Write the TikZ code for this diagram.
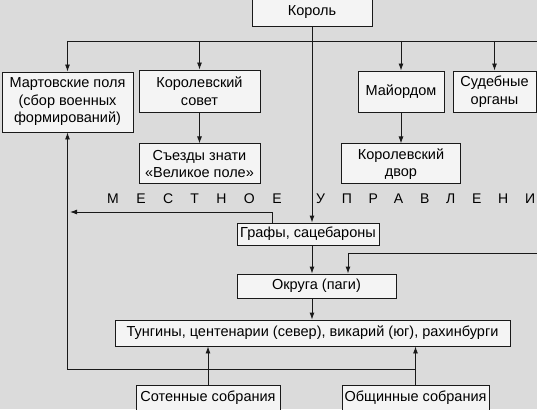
\documentclass[tikz,border=0pt]{standalone}
\usepackage{fontspec}
\setmainfont{Liberation Sans}
\usetikzlibrary{arrows.meta, positioning}
\definecolor{paper}{gray}{0.86}
\definecolor{boxfill}{gray}{0.955}

\begin{document}
\begin{tikzpicture}[
    x=1pt, y=-1pt,
    box/.style={rectangle, draw=black!90, fill=boxfill, line width=0.9pt, align=center, inner sep=1pt, font=\fontsize{14.5}{17.5}\selectfont},
    arrow/.style={-{Latex[length=7pt, width=5pt]}, line width=0.9pt, draw=black!90},
    line/.style={line width=0.9pt, draw=black!90},
    spaced/.style={inner sep=0pt, anchor=west, font=\fontsize{14}{16}\selectfont\addfontfeature{LetterSpace=#1}}
]
    \useasboundingbox (0,0) rectangle (537,409);
    \fill[paper] (0,0) rectangle (537,409);

    % Top level
    \node[box, minimum width=120pt, minimum height=28pt] (korol) at (312,12) {Король};

    % Central bodies
    \node[box, minimum width=131pt, minimum height=60pt] (mart) at (67.5,102) {Мартовские поля\\(сбор военных\\формирований)};
    \node[box, minimum width=121pt, minimum height=42pt] (sovet) at (199.5,91) {Королевский\\совет};
    \node[box, minimum width=121pt, minimum height=40pt, below=31pt of sovet] (sezdy) {Съезды знати\\«Великое поле»};
    \node[box, minimum width=86pt, minimum height=41pt] (major) at (401,91.5) {Майордом};
    \node[box, minimum width=83pt, minimum height=41pt] (sud) at (494.5,91.5) {Судебные\\органы};
    \node[box, minimum width=119pt, minimum height=40pt, below=31pt of major] (dvor) {Королевский\\двор};

    % Local government
    \node[spaced=125] (mest1) at (107,199) {МЕСТНОЕ};
    \node[spaced=120] (mest2) at (316,199) {УПРАВЛЕНИ};
    \node[box, minimum width=142pt, minimum height=22pt] (grafy) at (308,234) {Графы, сацебароны};
    \node[box, minimum width=159pt, minimum height=24pt] (okruga) at (316.5,286) {Округа (паги)};
    \node[box, minimum width=395pt, minimum height=26pt] (tung) at (312.5,333) {Тунгины, центенарии (север), викарий (юг), рахинбурги};

    % Assemblies
    \node[box, minimum width=144pt, minimum height=26pt] (sot) at (208,398) {Сотенные собрания};
    \node[box, minimum width=147pt, minimum height=26pt] (obsch) at (415.5,398) {Общинные собрания};

    \coordinate (busR) at (537,41);
    \coordinate (rightIn) at (537,253);
    \coordinate (mestL) at (70,212);
    \coordinate (loopB) at (67.5,369);

    % Arrows
    \draw[arrow] (korol) -- (korol |- grafy.north);
    \draw[line] (mart.north |- busR) -- (busR);
    \draw[arrow] (mart.north |- busR) -- (mart);
    \draw[arrow] (sovet.north |- busR) -- (sovet);
    \draw[arrow] (major.north |- busR) -- (major);
    \draw[arrow] (sud.north |- busR) -- (sud);
    \draw[arrow] (sovet) -- (sezdy);
    \draw[arrow] (major) -- (dvor);
    \draw[arrow] ([xshift=-36pt]grafy.north) |- (mestL);
    \draw[arrow] (korol |- grafy.south) -- (korol |- okruga.north);
    \draw[arrow] (rightIn) -| ([xshift=31.5pt]okruga.north);
    \draw[arrow] (korol |- okruga.south) -- (korol |- tung.north);
    \draw[arrow] (sot) -- (sot |- tung.south);
    \draw[arrow] (obsch) -- (obsch |- tung.south);
    \draw[arrow] (obsch |- loopB) -- (loopB) -- (mart);

\end{tikzpicture}
\end{document}
